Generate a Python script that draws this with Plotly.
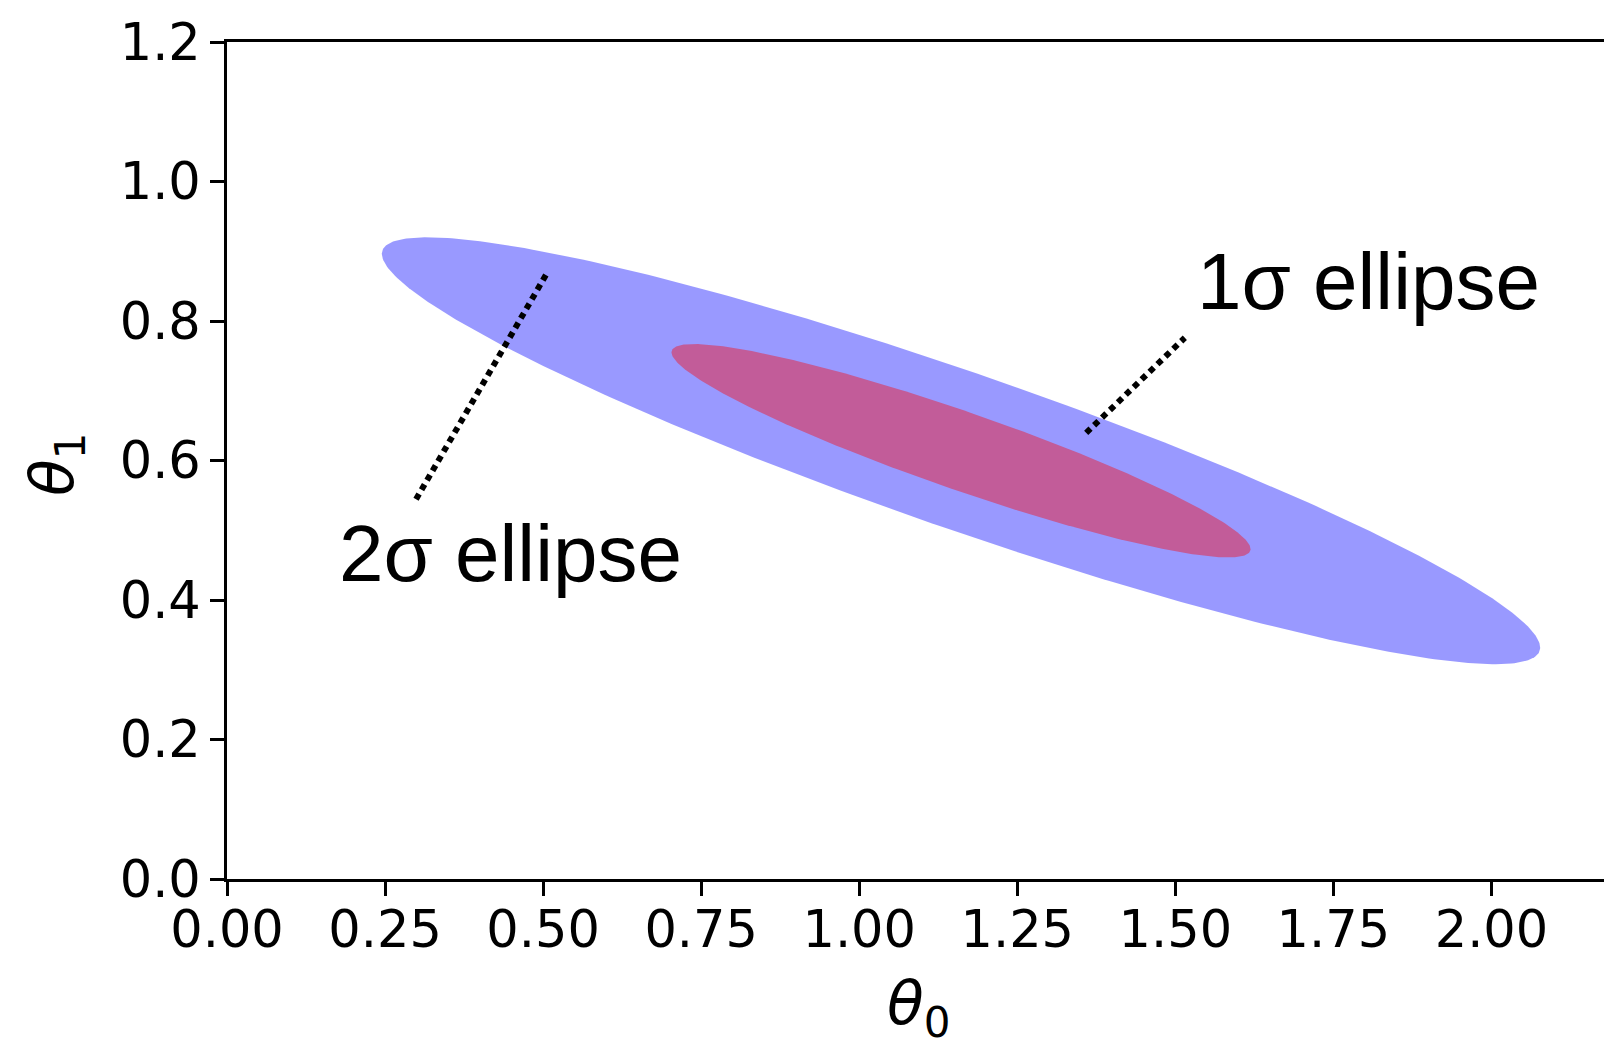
import numpy as np
import plotly.graph_objects as go

# ---- data ----
mean_theta = [1.161, 0.614]          # centre of the ellipses (theta0, theta1)
sigma_theta = [0.458, 0.153]         # standard deviations
rho_theta = -0.922                   # correlation coefficient
sigma_levels = [2, 1]                # outer (2 sigma) then inner (1 sigma)
fill_colors = ["rgba(0,0,255,0.4)", "rgba(255,0,0,0.4)"]

label_texts = ["2σ ellipse", "1σ ellipse"]
label_x = [0.449, 1.805]
label_y = [0.466, 0.856]
pointer_x = [[0.299, 0.508], [1.359, 1.515]]
pointer_y = [[0.5445, 0.8715], [0.6396, 0.776]]

x_ticks = [0.0, 0.25, 0.5, 0.75, 1.0, 1.25, 1.5, 1.75, 2.0]
y_ticks = [0.0, 0.2, 0.4, 0.6, 0.8, 1.0, 1.2]
x_range = [0, 2.178]
y_range = [0, 1.2]

# ---- build ellipses from the covariance ----
cov = np.array([[sigma_theta[0] ** 2, rho_theta * sigma_theta[0] * sigma_theta[1]],
                [rho_theta * sigma_theta[0] * sigma_theta[1], sigma_theta[1] ** 2]])
L = np.linalg.cholesky(cov)
t = np.linspace(0, 2 * np.pi, 400)
circle = np.vstack([np.cos(t), np.sin(t)])

fig = go.Figure()
for k, col in zip(sigma_levels, fill_colors):
    pts = k * (L @ circle)
    fig.add_trace(go.Scatter(
        x=mean_theta[0] + pts[0], y=mean_theta[1] + pts[1],
        mode="lines", fill="toself", fillcolor=col,
        line=dict(width=0, color=col), hoverinfo="skip", showlegend=False))

for px, py in zip(pointer_x, pointer_y):
    fig.add_trace(go.Scatter(x=px, y=py, mode="lines",
                             line=dict(color="black", width=6, dash="6px,5px"),
                             showlegend=False, hoverinfo="skip"))

for txt, lx, ly in zip(label_texts, label_x, label_y):
    fig.add_annotation(x=lx, y=ly, text=txt, showarrow=False,
                       xanchor="center", yanchor="middle",
                       font=dict(family="Liberation Sans, Arial, sans-serif", size=80, color="black"))

tick_font = dict(family="DejaVu Sans", size=51, color="black")
fig.update_layout(
    width=1604, height=1040,
    margin=dict(l=227, r=0, t=42, b=161),
    paper_bgcolor="white", plot_bgcolor="white",
    showlegend=False,
    xaxis=dict(range=x_range, tickvals=x_ticks, tickformat=".2f",
               showgrid=False, zeroline=False, showline=True, linecolor="black",
               linewidth=3, mirror=True, ticks="outside", ticklen=14, tickwidth=3,
               tickcolor="black", tickfont=tick_font, ticklabelstandoff=-10),
    yaxis=dict(range=y_range, tickvals=y_ticks, tickformat=".1f",
               showgrid=False, zeroline=False, showline=True, linecolor="black",
               linewidth=3, ticks="outside", ticklen=14, tickwidth=3,
               tickcolor="black", tickfont=tick_font, ticklabelstandoff=-1),
)

fig.add_annotation(xref="paper", yref="paper", x=0.502, y=-0.153,
                   text="<i>θ</i><sub>0</sub>", showarrow=False,
                   xanchor="center", yanchor="middle",
                   font=dict(family="DejaVu Sans", size=60, color="black"))
fig.add_annotation(xref="paper", yref="paper", x=-0.124, y=0.495,
                   text="<i>θ</i><sub>1</sub>", showarrow=False, textangle=-90,
                   xanchor="center", yanchor="middle",
                   font=dict(family="DejaVu Sans", size=60, color="black"))

fig.write_html("out.html", config={"displayModeBar": False},
               post_script="document.body.style.margin='0px';document.body.style.overflow='hidden';")
